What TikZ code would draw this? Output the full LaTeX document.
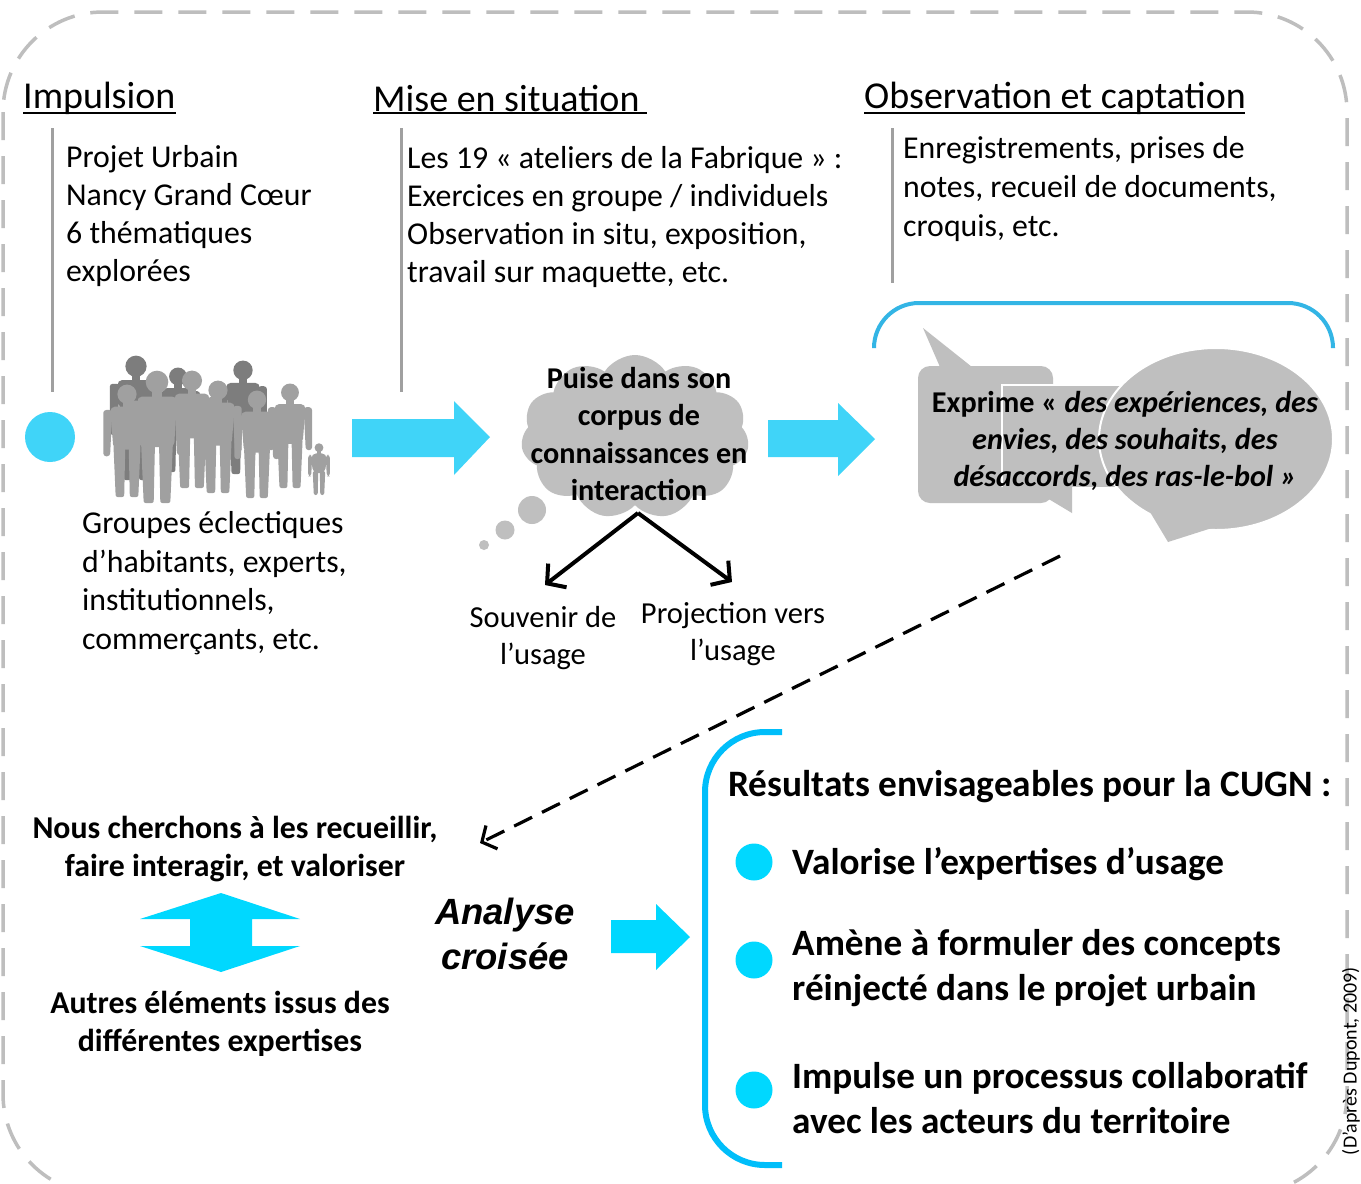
\documentclass[tikz,border=0pt]{standalone}
\usepackage{fontspec}
\setmainfont{Carlito}
\newfontfamily\arialf{Liberation Sans}
\usetikzlibrary{shapes.symbols,arrows.meta}
\definecolor{cyanA}{RGB}{64,212,248}
\definecolor{cyanB}{RGB}{0,216,255}
\definecolor{brkA}{RGB}{51,181,229}
\definecolor{brkB}{RGB}{0,190,250}
\definecolor{bordc}{RGB}{190,190,190}
\definecolor{bubc}{RGB}{191,191,191}
\definecolor{vlinec}{RGB}{160,160,160}
\definecolor{plc}{RGB}{160,160,160}
\definecolor{pdc}{RGB}{125,125,125}
\newcommand\fs[2]{\fontsize{#1}{#2}\selectfont}
\newcommand\pplfig[4]{%
\begin{scope}[shift={(#1,#2)},scale=#3]
\fill[#4] (0,-91) circle (8.5);
\fill[#4] (-3.5,-85) rectangle (3.5,-78);
\fill[#4,rounded corners=5] (-15,-80) -- (15,-80) -- (12,-42) -- (-12,-42) -- cycle;
\fill[#4,rounded corners=2] (-12,-46) -- (-1.5,-46) -- (-2.5,0) -- (-10,0) -- cycle;
\fill[#4,rounded corners=2] (1.5,-46) -- (12,-46) -- (10,0) -- (2.5,0) -- cycle;
\fill[#4,rounded corners=3] (-21,-77) -- (-13,-77) -- (-15,-36) -- (-21,-36) -- cycle;
\fill[#4,rounded corners=3] (13,-77) -- (21,-77) -- (21,-36) -- (15,-36) -- cycle;
\end{scope}}
\begin{document}
\begin{tikzpicture}[x=1pt,y=-1pt,
  txt/.style={inner sep=0pt, align=left, anchor=west},
  ctxt/.style={inner sep=0pt, align=center},
  head/.style={inner sep=0pt, anchor=west, font=\fs{38}{44}},
  vl/.style={draw=vlinec, line width=3pt},
  ul/.style={draw=black, line width=1.6pt},
  blk/.style={draw=black, line width=4pt, -{Straight Barb[length=13pt,width=30pt]}},
  dsh/.style={draw=black, line width=3.2pt, dash pattern=on 20pt off 11pt, -{Straight Barb[length=11pt,width=26pt]}},
  dot/.style={circle, fill=cyanB, inner sep=0pt, minimum size=37pt}
]
\clip (0,0) rectangle (1361,1184);
\fill[white] (0,0) rectangle (1361,1184);
% border
\draw[bordc, line width=3.5pt, dash pattern=on 28pt off 16pt, rounded corners=100pt] (3,12) rectangle (1347,1194);

% headings
\node[head] (h1) at (23,98) {Impulsion};
\node[head] (h2) at (373,98) {Mise en situation};
\node[head] (h3) at (864,98) {Observation et captation};
\draw[ul] (23,113) -- (176,113);
\draw[ul] (373,113) -- (647,113);
\draw[ul] (864,113) -- (1245,113);

% vertical lines
\coordinate (v1a) at (52,128); \coordinate (v1b) at (52,392);
\coordinate (v2a) at (401,128); \coordinate (v2b) at (401,392);
\coordinate (v3a) at (892,128); \coordinate (v3b) at (892,283);
\draw[vl] (v1a) -- (v1b);
\draw[vl] (v2a) -- (v2b);
\draw[vl] (v3a) -- (v3b);
\node[circle, fill=cyanA, inner sep=0pt, minimum size=50pt] (c0) at (50,437) {};

% texts top
\node[txt, font=\fs{31.8}{38.3}] (t1) at (66,216) {Projet Urbain\\Nancy Grand Cœur\\6 thématiques\\explorées};
\node[txt, font=\fs{31.8}{38.3}] (t2) at (407,217) {Les 19 « ateliers de la Fabrique » :\\Exercices en groupe / individuels\\Observation in situ, exposition,\\travail sur maquette, etc.};
\node[txt, font=\fs{31.8}{39}] (t3) at (903,189) {Enregistrements, prises de\\notes, recueil de documents,\\croquis, etc.};

% people
\pplfig{136}{480}{1.25}{pdc}
\pplfig{178}{472}{1.05}{pdc}
\pplfig{243}{474}{1.14}{pdc}
\pplfig{127}{497}{1.13}{plc}
\pplfig{157}{503}{1.33}{plc}
\pplfig{192}{488}{1.18}{plc}
\pplfig{218}{493}{1.13}{plc}
\pplfig{257}{498}{1.08}{plc}
\pplfig{290}{488}{1.05}{plc}
\pplfig{319}{495}{0.52}{plc}

\node[txt, font=\fs{31.8}{38.5}] (t4) at (82,583) {Groupes éclectiques\\d’habitants, experts,\\institutionnels,\\commerçants, etc.};

% arrow 1
\fill[cyanA] (352,419) -- (454,419) -- (454,401) -- (490,437) -- (454,475) -- (454,457) -- (352,457) -- cycle;

% cloud
\node[cloud, cloud puffs=11, cloud puff arc=115, cloud ignores aspect, fill=bubc, minimum width=228pt, minimum height=164pt, inner sep=0pt] (cl) at (635,437) {};
\fill[bubc] (532,510) circle (14);
\fill[bubc] (505,530) circle (9.5);
\fill[bubc] (484,545) circle (5);
\node[ctxt, font=\bfseries\fs{30.2}{37.5}] (clt) at (639,434) {Puise dans son\\corpus de\\connaissances en\\interaction};
\coordinate (ap) at (638,513);
\coordinate (aL) at (545,585);
\coordinate (aR) at (732,582);
\draw[blk] (ap) -- (aL);
\draw[blk] (ap) -- (aR);
\node[ctxt, font=\fs{30.5}{37}] (s1) at (543,638) {Souvenir de\\l’usage};
\node[ctxt, font=\fs{30.5}{37}] (s2) at (733,634) {Projection vers\\l’usage};

% arrow 2
\fill[cyanA] (768,420) -- (838,420) -- (838,403) -- (875,439) -- (838,476) -- (838,457) -- (768,457) -- cycle;

% bracket top
\draw[brkA, line width=4pt, rounded corners=45pt] (874,347) -- (874,303) -- (1333,303) -- (1333,347);

% speech bubbles
\fill[bubc, rounded corners=12pt] (918,366) rectangle (1053,503);
\fill[bubc] (940,367) -- (923,328) -- (972,367) -- cycle;
\fill[bubc] (1027,486) -- (1072,513) -- (1072,486) -- cycle;
\filldraw[fill=bubc, draw=white, line width=2pt] (1002,487) -- (1002,385) -- (1160,385) -- (1160,487);
\filldraw[fill=bubc, draw=white, line width=2pt] (1216,439) ellipse (117 and 91);
\fill[bubc] (1150,512) -- (1168,542) -- (1215,527) -- cycle;
\node[ctxt, font=\bfseries\fs{30.2}{37}] (sp) at (1125,441) {Exprime « \textit{des expériences, des}\\\textit{envies, des souhaits, des}\\\textit{désaccords, des ras-le-bol »}};

% dashed arrow
\coordinate (dA) at (1060,556);
\coordinate (dB) at (480,843);
\draw[dsh] (dA) -- (dB);

% bottom left
\node[ctxt, font=\bfseries\fs{31.8}{38}] (n1) at (235,849) {Nous cherchons à les recueillir,\\faire interagir, et valoriser};
\fill[cyanB] (221,893) -- (300,919) -- (252,919) -- (252,946) -- (300,946) -- (221,972) -- (140,946) -- (190,946) -- (190,919) -- (140,919) -- cycle;
\node[ctxt, font=\bfseries\fs{31.8}{38}] (n2) at (220,1024) {Autres éléments issus des\\différentes expertises};
\node[ctxt, font=\arialf\bfseries\itshape\fs{36.5}{45}] (an) at (505,934) {Analyse\\croisée};
\fill[cyanB] (611,920) -- (656,920) -- (656,904) -- (690,937) -- (656,970) -- (656,953) -- (611,953) -- cycle;

% bottom bracket
\draw[brkB, line width=6pt, rounded corners=60pt] (782,732) -- (705,732) -- (705,1165) -- (782,1165);
\node[txt, font=\bfseries\fs{37.3}{44}] (r0) at (728,787) {Résultats envisageables pour la CUGN :};
\node[dot] (b1) at (754,862) {};
\node[dot] (b2) at (754,960) {};
\node[dot] (b3) at (754,1090) {};
\node[txt, font=\bfseries\fs{37.2}{44.5}] (r1) at (792,864) {Valorise l’expertises d’usage};
\node[txt, font=\bfseries\fs{37.2}{44.5}] (r2) at (792,968) {Amène à formuler des concepts\\réinjecté dans le projet urbain};
\node[txt, font=\bfseries\fs{37.2}{44.5}] (r3) at (792,1098) {Impulse un processus collaboratif\\avec les acteurs du territoire};

% source
\node[inner sep=0pt, rotate=90, font=\fs{20}{24}] (src) at (1351,1061) {(D’après Dupont, 2009)};
\end{tikzpicture}
\end{document}
